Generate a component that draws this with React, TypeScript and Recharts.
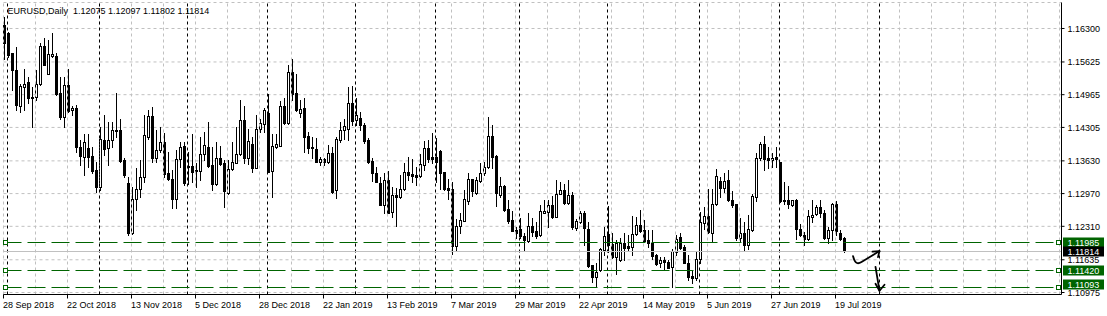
import React from 'react';
import { ComposedChart, Bar, XAxis, YAxis, CartesianGrid, ReferenceLine } from 'recharts';

// ---- data (EURUSD daily candles) ----
const OPEN = [
  1.1637, 1.1620, 1.1580, 1.1546, 1.1473, 1.1512, 1.1522, 1.1490, 1.1491, 1.1519,
  1.1594, 1.1539, 1.1574, 1.1574, 1.1499, 1.1452, 1.1517, 1.1465, 1.1469, 1.1391,
  1.1371, 1.1389, 1.1372, 1.1344, 1.1311, 1.1406, 1.1388, 1.1406, 1.1425, 1.1425,
  1.1364, 1.1319, 1.1217, 1.1287, 1.1306, 1.1330, 1.1411, 1.1453, 1.1368, 1.1384,
  1.1401, 1.1339, 1.1327, 1.1287, 1.1366, 1.1393, 1.1352, 1.1352, 1.1344, 1.1343,
  1.1376, 1.1391, 1.1354, 1.1316, 1.1368, 1.1358, 1.1299, 1.1346, 1.1359, 1.1377,
  1.1445, 1.1368, 1.1397, 1.1349, 1.1428, 1.1438, 1.1459, 1.1343, 1.1391, 1.1393,
  1.1473, 1.1440, 1.1542, 1.1499, 1.1459, 1.1469, 1.1413, 1.1391, 1.1386, 1.1361,
  1.1366, 1.1360, 1.1379, 1.1304, 1.1405, 1.1426, 1.1428, 1.1479, 1.1446, 1.1450,
  1.1435, 1.1405, 1.1362, 1.1339, 1.1319, 1.1274, 1.1324, 1.1259, 1.1294, 1.1290,
  1.1307, 1.1340, 1.1336, 1.1334, 1.1332, 1.1355, 1.1389, 1.1370, 1.1370, 1.1383,
  1.1340, 1.1308, 1.1306, 1.1192, 1.1231, 1.1242, 1.1282, 1.1326, 1.1299, 1.1322,
  1.1338, 1.1350, 1.1413, 1.1372, 1.1295, 1.1312, 1.1265, 1.1243, 1.1223, 1.1225,
  1.1212, 1.1202, 1.1231, 1.1222, 1.1213, 1.1258, 1.1260, 1.1274, 1.1250, 1.1297,
  1.1304, 1.1278, 1.1294, 1.1227, 1.1240, 1.1257, 1.1225, 1.1153, 1.1129, 1.1143,
  1.1184, 1.1215, 1.1195, 1.1169, 1.1164, 1.1198, 1.1191, 1.1190, 1.1215, 1.1233,
  1.1223, 1.1203, 1.1198, 1.1173, 1.1158, 1.1164, 1.1160, 1.1149, 1.1180, 1.1209,
  1.1190, 1.1158, 1.1130, 1.1127, 1.1166, 1.1238, 1.1251, 1.1218, 1.1276, 1.1322,
  1.1309, 1.1325, 1.1285, 1.1276, 1.1208, 1.1217, 1.1194, 1.1223, 1.1290, 1.1368,
  1.1398, 1.1368, 1.1365, 1.1371, 1.1360, 1.1285, 1.1285, 1.1275, 1.1285, 1.1225,
  1.1213, 1.1206, 1.1250, 1.1255, 1.1269, 1.1258, 1.1208, 1.1223, 1.1276, 1.1217,
  1.12075,
];
const HIGH = [
  1.1654, 1.1623, 1.1580, 1.1593, 1.1519, 1.1549, 1.1533, 1.1512, 1.1546, 1.1601,
  1.1610, 1.1606, 1.1620, 1.1580, 1.1533, 1.1533, 1.1549, 1.1473, 1.1475, 1.1405,
  1.1418, 1.1418, 1.1391, 1.1361, 1.1432, 1.1455, 1.1442, 1.1442, 1.1499, 1.1448,
  1.1368, 1.1331, 1.1311, 1.1348, 1.1364, 1.1455, 1.1465, 1.1472, 1.1425, 1.1432,
  1.1420, 1.1381, 1.1344, 1.1385, 1.1401, 1.1401, 1.1381, 1.1418, 1.1359, 1.1412,
  1.1422, 1.1442, 1.1391, 1.1401, 1.1393, 1.1364, 1.1364, 1.1401, 1.1432, 1.1486,
  1.1473, 1.1428, 1.1412, 1.1455, 1.1448, 1.1469, 1.1497, 1.1418, 1.1418, 1.1484,
  1.1489, 1.1556, 1.1569, 1.1539, 1.1486, 1.1489, 1.1422, 1.1412, 1.1410, 1.1371,
  1.1368, 1.1395, 1.1391, 1.1412, 1.1442, 1.1448, 1.1512, 1.1514, 1.1489, 1.1462,
  1.1440, 1.1410, 1.1369, 1.1351, 1.1331, 1.1338, 1.1342, 1.1311, 1.1309, 1.1334,
  1.1358, 1.1371, 1.1366, 1.1351, 1.1377, 1.1403, 1.1405, 1.1420, 1.1410, 1.1385,
  1.1341, 1.1327, 1.1321, 1.1245, 1.1257, 1.1304, 1.1339, 1.1327, 1.1331, 1.1358,
  1.1361, 1.1451, 1.1436, 1.1374, 1.1331, 1.1314, 1.1285, 1.1262, 1.1230, 1.1247,
  1.1217, 1.1257, 1.1247, 1.1240, 1.1274, 1.1284, 1.1285, 1.1292, 1.1324, 1.1321,
  1.1317, 1.1324, 1.1301, 1.1246, 1.1262, 1.1262, 1.1240, 1.1153, 1.1156, 1.1188,
  1.1230, 1.1272, 1.1217, 1.1204, 1.1208, 1.1217, 1.1213, 1.1251, 1.1250, 1.1263,
  1.1243, 1.1223, 1.1223, 1.1176, 1.1169, 1.1169, 1.1163, 1.1186, 1.1213, 1.1217,
  1.1193, 1.1173, 1.1141, 1.1180, 1.1260, 1.1270, 1.1307, 1.1307, 1.1346, 1.1331,
  1.1338, 1.1344, 1.1303, 1.1277, 1.1247, 1.1240, 1.1253, 1.1297, 1.1378, 1.1401,
  1.1413, 1.1391, 1.1379, 1.1391, 1.1361, 1.1321, 1.1312, 1.1285, 1.1287, 1.1235,
  1.1220, 1.1263, 1.1285, 1.1274, 1.1284, 1.1263, 1.1230, 1.1278, 1.1282, 1.1223,
  1.12097,
];
const LOW = [
  1.1569, 1.1573, 1.1506, 1.1465, 1.1462, 1.1465, 1.1479, 1.1432, 1.1486, 1.1516,
  1.1556, 1.1539, 1.1573, 1.1496, 1.1448, 1.1432, 1.1462, 1.1455, 1.1381, 1.1354,
  1.1334, 1.1351, 1.1338, 1.1301, 1.1304, 1.1374, 1.1354, 1.1391, 1.1412, 1.1361,
  1.1331, 1.1213, 1.1215, 1.1263, 1.1290, 1.1321, 1.1408, 1.1361, 1.1361, 1.1381,
  1.1331, 1.1324, 1.1267, 1.1267, 1.1351, 1.1314, 1.1317, 1.1321, 1.1311, 1.1324,
  1.1364, 1.1351, 1.1304, 1.1314, 1.1354, 1.1269, 1.1297, 1.1344, 1.1358, 1.1375,
  1.1358, 1.1357, 1.1341, 1.1348, 1.1422, 1.1422, 1.1341, 1.1290, 1.1388, 1.1393,
  1.1438, 1.1437, 1.1486, 1.1464, 1.1452, 1.1381, 1.1378, 1.1368, 1.1360, 1.1354,
  1.1354, 1.1358, 1.1299, 1.1289, 1.1401, 1.1408, 1.1406, 1.1435, 1.1435, 1.1425,
  1.1399, 1.1359, 1.1322, 1.1321, 1.1274, 1.1257, 1.1257, 1.1249, 1.1231, 1.1288,
  1.1304, 1.1324, 1.1321, 1.1315, 1.1331, 1.1344, 1.1360, 1.1358, 1.1321, 1.1307,
  1.1305, 1.1286, 1.1176, 1.1184, 1.1217, 1.1242, 1.1276, 1.1292, 1.1297, 1.1321,
  1.1334, 1.1348, 1.1348, 1.1272, 1.1290, 1.1262, 1.1238, 1.1222, 1.1208, 1.1208,
  1.1183, 1.1200, 1.1211, 1.1208, 1.1211, 1.1257, 1.1230, 1.1247, 1.1249, 1.1296,
  1.1277, 1.1277, 1.1225, 1.1223, 1.1238, 1.1193, 1.1149, 1.1119, 1.1111, 1.1141,
  1.1173, 1.1180, 1.1168, 1.1135, 1.1161, 1.1164, 1.1183, 1.1173, 1.1213, 1.1219,
  1.1200, 1.1190, 1.1166, 1.1153, 1.1149, 1.1143, 1.1146, 1.1108, 1.1173, 1.1186,
  1.1156, 1.1122, 1.1116, 1.1122, 1.1156, 1.1225, 1.1218, 1.1200, 1.1274, 1.1290,
  1.1301, 1.1282, 1.1269, 1.1203, 1.1202, 1.1182, 1.1186, 1.1222, 1.1282, 1.1364,
  1.1344, 1.1348, 1.1351, 1.1351, 1.1280, 1.1276, 1.1267, 1.1272, 1.1206, 1.1212,
  1.1193, 1.1204, 1.1240, 1.1253, 1.1250, 1.1206, 1.1198, 1.1203, 1.1213, 1.1204,
  1.11802,
];
const CLOSE = [
  1.1600, 1.1576, 1.1546, 1.1475, 1.1514, 1.1519, 1.1489, 1.1491, 1.1518, 1.1594,
  1.1556, 1.1578, 1.1578, 1.1497, 1.1452, 1.1516, 1.1463, 1.1469, 1.1390, 1.1373,
  1.1402, 1.1371, 1.1343, 1.1311, 1.1408, 1.1386, 1.1406, 1.1426, 1.1423, 1.1363,
  1.1334, 1.1217, 1.1287, 1.1307, 1.1331, 1.1415, 1.1453, 1.1368, 1.1385, 1.1401,
  1.1336, 1.1327, 1.1287, 1.1366, 1.1391, 1.1319, 1.1350, 1.1341, 1.1342, 1.1376,
  1.1395, 1.1353, 1.1316, 1.1368, 1.1356, 1.1303, 1.1346, 1.1361, 1.1377, 1.1445,
  1.1368, 1.1403, 1.1349, 1.1428, 1.1440, 1.1465, 1.1341, 1.1393, 1.1397, 1.1473,
  1.1440, 1.1542, 1.1498, 1.1465, 1.1467, 1.1412, 1.1389, 1.1388, 1.1361, 1.1366,
  1.1360, 1.1379, 1.1301, 1.1407, 1.1426, 1.1433, 1.1479, 1.1444, 1.1455, 1.1435,
  1.1403, 1.1361, 1.1339, 1.1321, 1.1275, 1.1324, 1.1258, 1.1294, 1.1290, 1.1307,
  1.1340, 1.1334, 1.1333, 1.1331, 1.1356, 1.1389, 1.1366, 1.1366, 1.1361, 1.1339,
  1.1307, 1.1305, 1.1192, 1.1231, 1.1243, 1.1286, 1.1326, 1.1303, 1.1324, 1.1339,
  1.1351, 1.1413, 1.1371, 1.1299, 1.1312, 1.1263, 1.1242, 1.1222, 1.1217, 1.1211,
  1.1203, 1.1231, 1.1220, 1.1211, 1.1262, 1.1262, 1.1274, 1.1250, 1.1297, 1.1304,
  1.1278, 1.1294, 1.1229, 1.1242, 1.1257, 1.1227, 1.1151, 1.1129, 1.1139, 1.1185,
  1.1212, 1.1194, 1.1169, 1.1198, 1.1198, 1.1188, 1.1187, 1.1215, 1.1233, 1.1221,
  1.1202, 1.1198, 1.1171, 1.1155, 1.1164, 1.1159, 1.1147, 1.1181, 1.1205, 1.1188,
  1.1158, 1.1129, 1.1127, 1.1166, 1.1239, 1.1251, 1.1220, 1.1276, 1.1332, 1.1309,
  1.1323, 1.1284, 1.1275, 1.1208, 1.1217, 1.1194, 1.1225, 1.1292, 1.1368, 1.1397,
  1.1366, 1.1365, 1.1368, 1.1367, 1.1282, 1.1282, 1.1276, 1.1284, 1.1225, 1.1213,
  1.1206, 1.1251, 1.1253, 1.1269, 1.1257, 1.1208, 1.1223, 1.1276, 1.1222, 1.1206,
  1.11814,
];

const SYMBOL = 'EURUSD,Daily';
const DATE_LABELS = [
  '28 Sep 2018', '22 Oct 2018', '13 Nov 2018', '5 Dec 2018', '28 Dec 2018', '22 Jan 2019', '13 Feb 2019',
  '7 Mar 2019', '29 Mar 2019', '22 Apr 2019', '14 May 2019', '5 Jun 2019', '27 Jun 2019', '19 Jul 2019',
];
const DATE_TICK_BARS = [0, 16, 32, 48, 64, 80, 96, 112, 128, 144, 160, 176, 192, 208];
const MONTH_START_BARS = [1, 24, 46, 66, 88, 108, 129, 151, 174, 194, 219];
const PRICE_TICKS = [1.163, 1.15625, 1.14965, 1.14305, 1.1363, 1.1297, 1.1231, 1.11635, 1.10975];
const LEVELS = [1.11985, 1.1142, 1.11093];
const LAST_PRICE = 1.11814;
const ARROW_UP_X = [212, 219];
const ARROW_UP_Y = [1.1171, 1.1181];
const ARROW_DOWN_X = [218, 219];
const ARROW_DOWN_Y = [1.1149, 1.1101];
const SLOTS = 265; // bars + empty space on the right (chart shift)
const Y_MIN = 1.109347;
const Y_MAX = 1.168244;

// ---- styles ----
const FONT = '"Liberation Sans", Arial, sans-serif';
const GRID = '#c0c0c0';
const GREEN = '#006400';
const TAG_MAX_Y = 284.5; // price tags are kept inside the price scale

const rows = Array.from({ length: SLOTS }, (_, i) =>
  i < OPEN.length
    ? { i, range: [LOW[i], HIGH[i]], o: OPEN[i], h: HIGH[i], l: LOW[i], c: CLOSE[i] }
    : { i, range: null }
);

const GRID_BARS = Array.from({ length: Math.floor((SLOTS - 1) / 8) + 1 }, (_, k) => k * 8);

const Candle = (props: any) => {
  const { x, y, width, height, payload } = props;
  if (!payload || payload.o == null || x == null || y == null || isNaN(y) || isNaN(height)) return null;
  const { o, h, l, c } = payload;
  const top = Math.min(y, y + height);
  const bot = Math.max(y, y + height);
  const span = h - l;
  const toY = (v: number) => (span > 0 ? top + ((h - v) / span) * (bot - top) : top);
  const col = Math.floor(x + width / 2);
  const wx = col + 0.5;
  const yH = Math.round(top);
  const yL = Math.round(bot) + 1;
  const yO = Math.round(toY(o)) + 0.5;
  const yC = Math.round(toY(c)) + 0.5;
  const bTop = Math.min(yO, yC);
  const bBot = Math.max(yO, yC);
  const bull = c >= o;
  return (
    <g>
      <line x1={wx} x2={wx} y1={yH} y2={yL} stroke="#000" strokeWidth={1} />
      {bBot - bTop < 1 ? (
        <line x1={col - 1} x2={col + 2} y1={bTop} y2={bTop} stroke="#000" strokeWidth={1} />
      ) : (
        <rect x={col - 0.5} y={bTop} width={2} height={bBot - bTop} fill={bull ? '#fff' : '#000'} stroke="#000" strokeWidth={1} />
      )}
    </g>
  );
};

const DateTick = (props: any) => {
  const { x, y, payload } = props;
  const k = DATE_TICK_BARS.indexOf(payload.value);
  if (k < 0) return null;
  return (
    <text x={x - 0.5} y={y} dy="0.71em" textAnchor="start" fontSize={9} fontFamily={FONT} fill="#000">
      {DATE_LABELS[k]}
    </text>
  );
};

const priceTag = (text: string, bg: string, ly: number, x: number) => {
  const ty = Math.min(ly, TAG_MAX_Y);
  return (
    <g>
      <rect x={x + 1.5} y={ty - 5} width={41} height={10} fill={bg} />
      <text x={x + 6} y={ty} dy="0.355em" fontSize={9} fontFamily={FONT} fill="#fff">
        {text}
      </text>
    </g>
  );
};

const levelShape = (value: number) => (p: any) => {
  const ly = Math.round(p.y1) + 0.5;
  const left = Math.min(p.x1, p.x2);
  const right = Math.max(p.x1, p.x2);
  return (
    <g>
      <line x1={left} x2={right} y1={ly} y2={ly} stroke={GREEN} strokeWidth={1} strokeDasharray="18 6" />
      <rect x={left} y={ly - 2} width={4} height={4} fill="#fff" stroke={GREEN} strokeWidth={1} />
      <rect x={right - 5} y={ly - 2} width={4} height={4} fill="#fff" stroke={GREEN} strokeWidth={1} />
      {priceTag(value.toFixed(5), GREEN, ly, right)}
    </g>
  );
};

const lastShape = (p: any) => {
  const ly = Math.round(p.y1) + 0.5;
  const left = Math.min(p.x1, p.x2);
  const right = Math.max(p.x1, p.x2);
  return (
    <g>
      <line x1={left} x2={right} y1={ly} y2={ly} stroke={GRID} strokeWidth={1} />
      {priceTag(LAST_PRICE.toFixed(5), '#000', ly, right)}
    </g>
  );
};

const squiggleShape = (p: any) => {
  const { x1, y1, x2, y2 } = p;
  const d = `M${x1 + 1.5},${y1} C${x1 + 3},${y1 + 6} ${x1 + 5},${y1 + 9} ${x1 + 10},${y1 + 6} L${x2},${y2}`;
  const head = `M${x2 - 7},${y2 + 0.5} L${x2},${y2} L${x2 - 1.5},${y2 + 6}`;
  return (
    <g fill="none" stroke="#000" strokeWidth={1.8} strokeLinecap="round" strokeLinejoin="round">
      <path d={d} />
      <path d={head} />
    </g>
  );
};

const downArrowShape = (p: any) => {
  const { x1, y1, x2, y2 } = p;
  const head = `M${x2 - 4},${y2 - 7} L${x2},${y2} L${x2 + 5},${y2 - 6}`;
  return (
    <g fill="none" stroke="#000" strokeWidth={1.8} strokeLinecap="round" strokeLinejoin="round">
      <path d={`M${x1},${y1} L${x2},${y2}`} />
      <path d={head} />
    </g>
  );
};

export default function App() {
  return (
    <div style={{ position: 'absolute', left: 0, top: 0, width: 1107, height: 316, background: '#fff' }}>
      <ComposedChart
        width={1107}
        height={316}
        data={rows}
        margin={{ top: 2.5, right: 0, bottom: 0, left: 3.5 }}
      >
        <CartesianGrid vertical={false} stroke={GRID} strokeDasharray="3 3" />
        {GRID_BARS.map((b) => (
          <ReferenceLine key={'g' + b} x={b} stroke={GRID} strokeDasharray="3 3" ifOverflow="visible" />
        ))}
        {MONTH_START_BARS.map((b) => (
          <ReferenceLine key={'m' + b} x={b} stroke="#000" strokeDasharray="3 3" ifOverflow="visible" />
        ))}
        <XAxis
          dataKey="i"
          type="category"
          ticks={DATE_TICK_BARS}
          interval={0}
          padding={{ left: -2, right: 0 }}
          height={21.5}
          tickSize={4}
          tickMargin={3}
          axisLine={{ stroke: '#000' }}
          tickLine={{ stroke: '#000' }}
          tick={<DateTick />}
        />
        <XAxis xAxisId="frame" orientation="top" height={0} tick={false} tickLine={false} axisLine={{ stroke: '#000' }} />
        <YAxis yAxisId="frame" orientation="left" width={0} tick={false} tickLine={false} axisLine={{ stroke: '#000' }} />
        <YAxis
          orientation="right"
          type="number"
          domain={[Y_MIN, Y_MAX]}
          allowDataOverflow
          ticks={PRICE_TICKS}
          interval={0}
          width={45.5}
          tickSize={3}
          tickMargin={3}
          axisLine={{ stroke: '#000' }}
          tickLine={{ stroke: '#000' }}
          tick={{ fontSize: 9, fontFamily: FONT, fill: '#000', textAnchor: 'start' }}
          tickFormatter={(v: number) => v.toFixed(5)}
        />
        {LEVELS.map((v) => (
          <ReferenceLine key={'l' + v} y={v} shape={levelShape(v)} ifOverflow="visible" />
        ))}
        <ReferenceLine y={LAST_PRICE} shape={lastShape} ifOverflow="visible" />
        <Bar dataKey="range" barSize={3} shape={<Candle />} isAnimationActive={false} />
        <ReferenceLine
          segment={[{ x: ARROW_UP_X[0], y: ARROW_UP_Y[0] }, { x: ARROW_UP_X[1], y: ARROW_UP_Y[1] }]}
          shape={squiggleShape}
          ifOverflow="visible"
        />
        <ReferenceLine
          segment={[{ x: ARROW_DOWN_X[0], y: ARROW_DOWN_Y[0] }, { x: ARROW_DOWN_X[1], y: ARROW_DOWN_Y[1] }]}
          shape={downArrowShape}
          ifOverflow="visible"
        />
      </ComposedChart>
      <div
        style={{
          position: 'absolute',
          left: 7.5,
          top: 6.4,
          fontFamily: FONT,
          fontSize: 9,
          lineHeight: '11px',
          whiteSpace: 'pre',
          color: '#000',
          pointerEvents: 'none',
        }}
      >
        {SYMBOL + '  ' + [OPEN[OPEN.length - 1], HIGH[HIGH.length - 1], LOW[LOW.length - 1], CLOSE[CLOSE.length - 1]]
          .map((v) => v.toFixed(5))
          .join(' ')}
      </div>
    </div>
  );
}
